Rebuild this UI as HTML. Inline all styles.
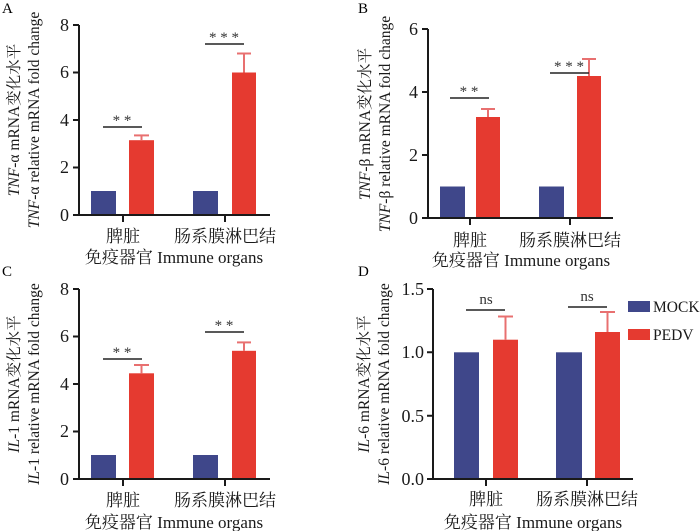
<!DOCTYPE html>
<html><head><meta charset="utf-8"><style>
html,body{margin:0;padding:0;background:#fff;}
svg{display:block;font-family:"Liberation Serif","Noto Serif CJK SC",serif;}
</style></head><body>
<svg width="700" height="531" viewBox="0 0 700 531" xmlns="http://www.w3.org/2000/svg">
<defs>
<style>
.ax{stroke:#1a1a1a;stroke-width:2;fill:none}
.tl{font-size:18px;fill:#1a1a1a;text-anchor:end}
.cat{font-size:17px;fill:#1a1a1a;text-anchor:middle}
.yl{font-size:15.5px;fill:#1a1a1a;text-anchor:middle}
.st{font-size:15px;fill:#333;text-anchor:middle}
.m{fill:#3f478a}
.p{fill:#e53a30}
.er{stroke:#e87070;stroke-width:2}
</style>
</defs>
<text x="2" y="13" font-size="15">A</text>
<text x="358" y="13" font-size="15">B</text>
<text x="2" y="276" font-size="15">C</text>
<text x="358" y="276" font-size="15">D</text>

<!-- Panel A -->
<g transform="translate(79,25)">
<rect class="m" x="12" y="166" width="25" height="24"/>
<rect class="p" x="50" y="115.2" width="25" height="74.8"/>
<line class="er" x1="62.5" y1="115" x2="62.5" y2="110.4"/><line class="er" x1="55" y1="110.4" x2="70" y2="110.4"/>
<rect class="m" x="114" y="166" width="25" height="24"/>
<rect class="p" x="153" y="47.5" width="24" height="142.5"/>
<line class="er" x1="165" y1="47.5" x2="165" y2="28.5"/><line class="er" x1="158" y1="28.5" x2="172" y2="28.5"/>
<line x1="24" y1="102" x2="63" y2="102" stroke="#222" stroke-width="1.5"/><text class="st" x="43" y="100">* *</text>
<line x1="126" y1="19" x2="165" y2="19" stroke="#222" stroke-width="1.5"/><text class="st" x="145" y="17">* * *</text>
<path class="ax" d="M0,0 V190 H191 M-6,0 H0 M-6,47.5 H0 M-6,95 H0 M-6,142.5 H0 M-6,190 H0 M44,190 V197 M146,190 V197"/>
<text class="tl" x="-10" y="6">8</text><text class="tl" x="-10" y="53">6</text><text class="tl" x="-10" y="101">4</text><text class="tl" x="-10" y="148">2</text><text class="tl" x="-10" y="196">0</text>
<text class="cat" x="44" y="217">脾脏</text><text class="cat" x="146" y="217">肠系膜淋巴结</text>
<text class="cat" x="95" y="238">免疫器官 Immune organs</text>
<text class="yl" transform="translate(-60,95) rotate(-90)"><tspan font-style="italic">TNF</tspan>-α mRNA变化水平</text>
<text class="yl" transform="translate(-40,95) rotate(-90)"><tspan font-style="italic">TNF</tspan>-α relative mRNA fold change</text>
</g>

<!-- Panel B -->
<g transform="translate(428,29)">
<rect class="m" x="12" y="157.5" width="25" height="31.5"/>
<rect class="p" x="48" y="88" width="24" height="101"/>
<line class="er" x1="60" y1="88" x2="60" y2="80"/><line class="er" x1="53" y1="80" x2="67" y2="80"/>
<rect class="m" x="111" y="157.5" width="25" height="31.5"/>
<rect class="p" x="149" y="47" width="24" height="142"/>
<line class="er" x1="161" y1="47" x2="161" y2="30"/><line class="er" x1="154" y1="30" x2="168" y2="30"/>
<line x1="22" y1="69" x2="61" y2="69" stroke="#222" stroke-width="1.5"/><text class="st" x="41" y="67">* *</text>
<line x1="122" y1="44" x2="161" y2="44" stroke="#222" stroke-width="1.5"/><text class="st" x="141" y="42">* * *</text>
<path class="ax" d="M0,0 V189 H185 M-6,0 H0 M-6,63 H0 M-6,126 H0 M-6,189 H0 M42,189 V196 M142,189 V196"/>
<text class="tl" x="-10" y="6">6</text><text class="tl" x="-10" y="69">4</text><text class="tl" x="-10" y="132">2</text><text class="tl" x="-10" y="195">0</text>
<text class="cat" x="42" y="217">脾脏</text><text class="cat" x="142" y="217">肠系膜淋巴结</text>
<text class="cat" x="93" y="237">免疫器官 Immune organs</text>
<text class="yl" transform="translate(-58,95) rotate(-90)"><tspan font-style="italic">TNF</tspan>-β mRNA变化水平</text>
<text class="yl" transform="translate(-38,95) rotate(-90)"><tspan font-style="italic">TNF</tspan>-β relative mRNA fold change</text>
</g>

<!-- Panel C -->
<g transform="translate(79,289)">
<rect class="m" x="12" y="166" width="25" height="24"/>
<rect class="p" x="50" y="84.3" width="25" height="105.7"/>
<line class="er" x1="62.5" y1="84.3" x2="62.5" y2="76"/><line class="er" x1="55" y1="76" x2="70" y2="76"/>
<rect class="m" x="114" y="166" width="25" height="24"/>
<rect class="p" x="153" y="61.8" width="24" height="128.2"/>
<line class="er" x1="165" y1="61.8" x2="165" y2="53.4"/><line class="er" x1="158" y1="53.4" x2="172" y2="53.4"/>
<line x1="24" y1="70" x2="63" y2="70" stroke="#222" stroke-width="1.5"/><text class="st" x="43" y="68">* *</text>
<line x1="126" y1="43" x2="165" y2="43" stroke="#222" stroke-width="1.5"/><text class="st" x="145" y="41">* *</text>
<path class="ax" d="M0,0 V190 H191 M-6,0 H0 M-6,47.5 H0 M-6,95 H0 M-6,142.5 H0 M-6,190 H0 M44,190 V197 M146,190 V197"/>
<text class="tl" x="-10" y="6">8</text><text class="tl" x="-10" y="53">6</text><text class="tl" x="-10" y="101">4</text><text class="tl" x="-10" y="148">2</text><text class="tl" x="-10" y="196">0</text>
<text class="cat" x="44" y="217">脾脏</text><text class="cat" x="146" y="217">肠系膜淋巴结</text>
<text class="cat" x="95" y="239">免疫器官 Immune organs</text>
<text class="yl" transform="translate(-60,95) rotate(-90)"><tspan font-style="italic">IL</tspan>-1 mRNA变化水平</text>
<text class="yl" transform="translate(-40,95) rotate(-90)"><tspan font-style="italic">IL</tspan>-1 relative mRNA fold change</text>
</g>

<!-- Panel D -->
<g transform="translate(433,289)">
<rect class="m" x="21" y="63.3" width="25" height="126.7"/>
<rect class="p" x="60" y="50.7" width="25" height="139.3"/>
<line class="er" x1="72.5" y1="50.7" x2="72.5" y2="27.5"/><line class="er" x1="65" y1="27.5" x2="80" y2="27.5"/>
<rect class="m" x="123" y="63.3" width="26" height="126.7"/>
<rect class="p" x="162" y="43" width="25" height="147"/>
<line class="er" x1="174.5" y1="43" x2="174.5" y2="23"/><line class="er" x1="167" y1="23" x2="182" y2="23"/>
<line x1="33" y1="21" x2="72" y2="21" stroke="#222" stroke-width="1.5"/><text class="st" x="53" y="15" font-size="16">ns</text>
<line x1="135" y1="18" x2="174" y2="18" stroke="#222" stroke-width="1.5"/><text class="st" x="154" y="12" font-size="16">ns</text>
<path class="ax" d="M0,0 V190 H200 M-6,0 H0 M-6,63.3 H0 M-6,126.7 H0 M-6,190 H0 M53,190 V197 M154,190 V197"/>
<text class="tl" x="-9" y="6">1.5</text><text class="tl" x="-9" y="69">1.0</text><text class="tl" x="-9" y="133">0.5</text><text class="tl" x="-9" y="196">0.0</text>
<text class="cat" x="53" y="216">脾脏</text><text class="cat" x="154" y="216">肠系膜淋巴结</text>
<text class="cat" x="100" y="239">免疫器官 Immune organs</text>
<text class="yl" transform="translate(-64,95) rotate(-90)"><tspan font-style="italic">IL</tspan>-6 mRNA变化水平</text>
<text class="yl" transform="translate(-44,95) rotate(-90)"><tspan font-style="italic">IL</tspan>-6 relative mRNA fold change</text>
</g>

<!-- Legend -->
<rect class="m" x="628" y="301" width="22" height="11"/>
<text x="653" y="312" font-size="15.5" fill="#1a1a1a">MOCK</text>
<rect class="p" x="628" y="329" width="22" height="11"/>
<text x="653" y="340" font-size="15.5" fill="#1a1a1a">PEDV</text>
</svg>
</body></html>
